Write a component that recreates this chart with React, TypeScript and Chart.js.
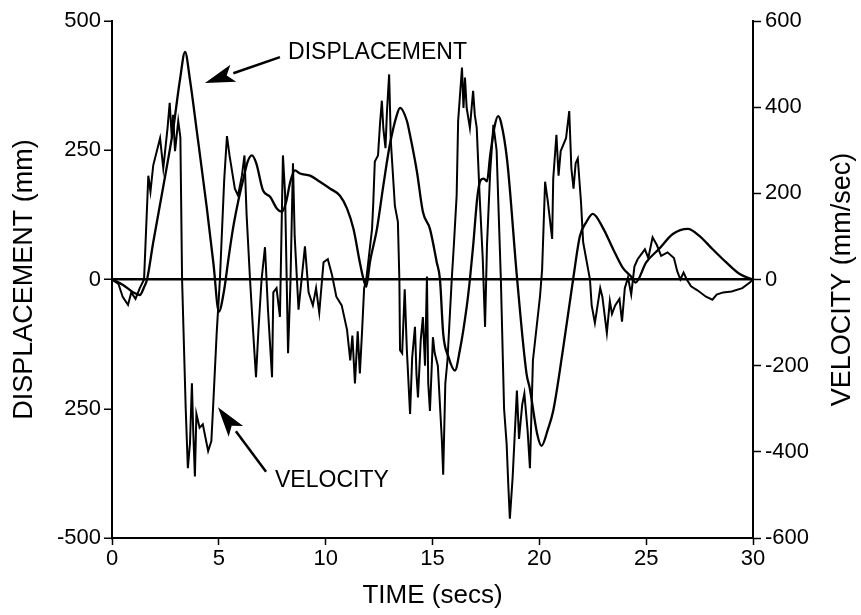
import React, { useEffect, useRef } from 'react';
import { Chart, registerables } from 'chart.js';

Chart.register(...registerables);

// ---- axis ticks ----
const timeTicks = [0, 5, 10, 15, 20, 25, 30];
const leftTickValues = [-500, -250, 0, 250, 500];
const leftTickLabels = ['-500', '250', '0', '250', '500'];
const rightTickValues = [-600, -400, -200, 0, 200, 400, 600];
const rightTickLabels = ['-600', '-400', '-200', '0', '200', '400', '600'];

// ---- displacement (mm), left axis ----
const dispTime = [
  0, 0.5, 1.0, 1.3, 1.5, 1.64, 1.93, 2.4, 2.86, 3.18, 3.42, 3.65, 3.96, 4.43, 4.75, 5.0,
  5.25, 5.45, 5.66, 5.9, 6.15, 6.35, 6.55, 6.75, 7.07, 7.4, 7.72, 7.96, 8.15, 8.35, 8.56,
  8.8, 9.27, 9.73, 10.2, 10.67, 11.0, 11.3, 11.6, 11.75, 11.9, 12.07, 12.4, 12.7, 13.0,
  13.33, 13.48, 13.8, 13.95, 14.27, 14.55, 14.88, 15.2, 15.35, 15.5, 15.75, 16.05, 16.28,
  16.6, 16.75, 16.9, 17.1, 17.25, 17.4, 17.55, 17.7, 17.9, 18.07, 18.2, 18.5, 18.95, 19.4,
  19.55, 19.9, 20.1, 20.4, 20.65, 21.1, 21.58, 21.9, 22.2, 22.5, 23.0, 23.45, 23.9, 24.33,
  24.5, 25.0, 25.6, 26.25, 26.95, 27.5, 28.1, 28.75, 29.4, 30,
];
const dispMm = [
  0, -10, -25, -30, -15, 0, 72, 180, 290, 386, 440, 386, 290, 141, 30, -62,
  -20, 40, 98, 150, 195, 228, 240, 225, 172, 160, 137, 131, 150, 190, 211,
  205, 201, 189, 176, 162, 137, 98, 33, 4, -14, 33, 98, 182, 260,
  318, 332, 307, 279, 209, 131, 98, 33, 0, -104, -150, -176, -137,
  -53, 0, 64, 160, 192, 195, 190, 240, 295, 316, 305, 228, 6, -182,
  -210, -299, -322, -290, -254, -137, 0, 84, 111, 127, 98, 59, 23, 4,
  -6, 33, 59, 88, 98, 84, 59, 33, 10, 0,
];

// ---- velocity (mm/sec), right axis ----
const velTime = [
  0, 0.3, 0.5, 0.75, 0.9, 1.1, 1.3, 1.5, 1.7, 1.8, 1.93, 2.25, 2.4, 2.6, 2.7, 2.8, 2.86,
  2.95, 3.1, 3.2, 3.28, 3.45, 3.55, 3.65, 3.74, 3.8, 3.88, 3.95, 4.1, 4.25, 4.5, 4.65,
  4.73, 4.9, 5.05, 5.25, 5.38, 5.5, 5.75, 5.9, 6.08, 6.2, 6.3, 6.46, 6.6, 6.74, 6.85,
  7.0, 7.16, 7.3, 7.49, 7.55, 7.7, 7.86, 8.0, 8.1, 8.24, 8.35, 8.47, 8.55, 8.73, 9.03,
  9.2, 9.4, 9.55, 9.7, 9.9, 10.1, 10.3, 10.5, 10.75, 11.0, 11.15, 11.25, 11.37, 11.5,
  11.6, 11.7, 11.8, 11.9, 12.17, 12.23, 12.3, 12.45, 12.54, 12.63, 12.7, 12.8, 12.87,
  12.97, 13.05, 13.24, 13.38, 13.45, 13.48, 13.58, 13.7, 13.8, 13.95, 14.05, 14.18,
  14.25, 14.32, 14.45, 14.55, 14.65, 14.74, 14.8, 14.88, 15.02, 15.1, 15.25, 15.44,
  15.5, 15.6, 15.7, 15.9, 16.0, 16.13, 16.2, 16.38, 16.45, 16.52, 16.6, 16.75, 16.9,
  16.98, 17.07, 17.2, 17.35, 17.46, 17.55, 17.7, 17.85, 18.0, 18.2, 18.35, 18.47, 18.55,
  18.62, 18.75, 18.95, 19.05, 19.2, 19.3, 19.45, 19.56, 19.7, 20.03, 20.13, 20.27, 20.4,
  20.6, 20.65, 20.8, 20.9, 21.0, 21.25, 21.4, 21.5, 21.6, 21.7, 21.8, 21.95, 22.05,
  22.37, 22.45, 22.6, 22.85, 22.95, 23.16, 23.3, 23.4, 23.55, 23.75, 23.87, 24.0, 24.15,
  24.3, 24.45, 24.6, 24.94, 25.1, 25.3, 25.5, 25.7, 26.0, 26.3, 26.45, 26.6, 26.75, 26.9,
  27.1, 27.4, 27.8, 28.1, 28.3, 28.6, 29.0, 29.5, 29.85, 30,
];
const velMmS = [
  0, -10, -40, -59, -30, -45, -20, 0, 241, 204, 265, 328, 258, 352, 410, 330, 382,
  298, 368, 330, 0, -300, -438, -380, -241, -350, -457, -312, -344, -336, -398, -375,
  -298, -124, 0, 230, 333, 288, 211, 195, 241, 288, 150, 0, -117, -227, -120,
  0, 75, -70, -227, -30, -20, -87, 288, 200, -171, -10, 270, 100, -70, 77,
  -30, -60, -20, -77, 40, 47, 10, -40, -60, -117, -188, -130, -241, -120,
  -218, -124, -20, 0, 117, 180, 274, 288, 359, 415, 350, 305, 391,
  476, 321, 171, 134, 0, -164, -171, -23, -164, -312, -180, -110,
  -220, -274, -140, -87, -200, 7, -241, -305, -134, -170, -200, -375,
  -453, -241, -188, 0, 80, 195, 368, 492, 398, 469, 398, 352, 438,
  382, 352, 200, 50, -110, 80, 250, 359, 300, 0, -300, -382, -480,
  -555, -460, -258, -370, -290, -265, -350, -438, -188, -40, 23, 227, 180,
  94, 234, 336, 241, 298, 328, 391, 258, 211, 270, 281, 180, 87,
  0, -60, -101, -20, -40, -124, -50, -80, -60, -45, -98, -20, 5,
  -35, 30, 47, 70, 50, 98, 80, 55, 63, 50, 20, 0, 16, 0,
  -16, -25, -40, -47, -35, -30, -28, -20, -7, 0,
];

// ---- annotations (in data units: time, displacement) ----
const annotationTexts = ['DISPLACEMENT', 'VELOCITY'];
const annotationTextAt = [[8.24, 439], [7.63, -390]];
const annotationArrowTail = [[7.86, 430], [7.21, -372]];
const annotationArrowHead = [[4.35, 380], [4.96, -247]];

const FONT = '"Liberation Sans", Arial, Helvetica, sans-serif';

const annotationPlugin = {
  id: 'figAnnotations',
  afterDraw(chart: any) {
    const { ctx, scales, chartArea } = chart;
    const x = scales.x;
    const y = scales.y;
    ctx.save();
    ctx.fillStyle = '#000';
    ctx.strokeStyle = '#000';
    ctx.font = `23px ${FONT}`;
    ctx.textBaseline = 'middle';
    ctx.textAlign = 'left';
    annotationTexts.forEach((txt, i) => {
      const tx = x.getPixelForValue(annotationTextAt[i][0]);
      const ty = y.getPixelForValue(annotationTextAt[i][1]);
      ctx.fillText(txt, tx, ty);
      const x0 = x.getPixelForValue(annotationArrowTail[i][0]);
      const y0 = y.getPixelForValue(annotationArrowTail[i][1]);
      const x1 = x.getPixelForValue(annotationArrowHead[i][0]);
      const y1 = y.getPixelForValue(annotationArrowHead[i][1]);
      const ang = Math.atan2(y1 - y0, x1 - x0);
      const headLen = 30;
      const headW = 9;
      const bx = x1 - headLen * Math.cos(ang);
      const by = y1 - headLen * Math.sin(ang);
      ctx.lineWidth = 2.5;
      ctx.beginPath();
      ctx.moveTo(x0, y0);
      ctx.lineTo(bx, by);
      ctx.stroke();
      ctx.beginPath();
      ctx.moveTo(x1, y1);
      ctx.lineTo(bx + headW * Math.sin(ang), by - headW * Math.cos(ang));
      ctx.lineTo(bx + 7 * Math.cos(ang), by + 7 * Math.sin(ang));
      ctx.lineTo(bx - headW * Math.sin(ang), by + headW * Math.cos(ang));
      ctx.closePath();
      ctx.fill();
    });
    // right axis title, reading bottom-to-top
    ctx.font = `27px ${FONT}`;
    ctx.textAlign = 'center';
    ctx.translate(chart.width - 18, (chartArea.top + chartArea.bottom) / 2);
    ctx.rotate(-Math.PI / 2);
    ctx.fillText('VELOCITY (mm/sec)', 0, 0);
    ctx.restore();
  },
};

export default function App() {
  const canvasRef = useRef<HTMLCanvasElement | null>(null);

  useEffect(() => {
    if (!canvasRef.current) return;
    const tickFont = { family: FONT, size: 22 };
    const titleFont = { family: FONT, size: 26 };
    const yTitleFont = { family: FONT, size: 27 };
    const chart = new Chart(canvasRef.current, {
      type: 'line',
      data: {
        datasets: [
          {
            label: 'Displacement',
            data: dispTime.map((t, i) => ({ x: t, y: dispMm[i] })),
            yAxisID: 'y',
            borderColor: '#000',
            borderWidth: 2.3,
            pointRadius: 0,
            cubicInterpolationMode: 'monotone',
            fill: false,
          },
          {
            label: 'Velocity',
            data: velTime.map((t, i) => ({ x: t, y: velMmS[i] })),
            yAxisID: 'y1',
            borderColor: '#000',
            borderWidth: 2,
            pointRadius: 0,
            tension: 0,
            fill: false,
          },
        ],
      },
      options: {
        responsive: false,
        animation: false,
        devicePixelRatio: 1,
        layout: { padding: { top: 21, left: 0, right: 0, bottom: 0 } },
        plugins: {
          legend: { display: false },
          tooltip: { enabled: false },
        },
        scales: {
          x: {
            type: 'linear',
            min: 0,
            max: 30,
            afterBuildTicks: (s: any) => {
              s.ticks = timeTicks.map((v) => ({ value: v }));
            },
            afterFit: (s: any) => {
              s.height = 77;
            },
            ticks: {
              font: tickFont,
              color: '#000',
              padding: 1,
              maxRotation: 0,
              autoSkip: false,
              callback: (v: any) => String(v),
            },
            grid: {
              display: true,
              drawOnChartArea: false,
              drawTicks: true,
              tickLength: 7,
              tickColor: '#000',
              tickWidth: 1.5,
            },
            border: { display: true, color: '#000', width: 2 },
            title: {
              display: true,
              text: 'TIME (secs)',
              font: titleFont,
              color: '#000',
              padding: { top: 0, bottom: 4 },
            },
          },
          y: {
            type: 'linear',
            position: 'left',
            min: -500,
            max: 500,
            afterBuildTicks: (s: any) => {
              s.ticks = leftTickValues.map((v) => ({ value: v }));
            },
            afterFit: (s: any) => {
              s.width = 112;
            },
            ticks: {
              font: tickFont,
              color: '#000',
              padding: 3,
              autoSkip: false,
              callback: (v: any) => leftTickLabels[leftTickValues.indexOf(v)],
            },
            grid: {
              display: true,
              drawOnChartArea: true,
              drawTicks: true,
              tickLength: 8,
              tickColor: '#000',
              tickWidth: 1.5,
              color: (c: any) => (c.tick && c.tick.value === 0 ? '#000' : 'rgba(0,0,0,0)'),
              lineWidth: 2.5,
            },
            border: { display: true, color: '#000', width: 2 },
            title: {
              display: true,
              text: 'DISPLACEMENT (mm)',
              font: yTitleFont,
              color: '#000',
              padding: { top: 8, bottom: 0 },
            },
          },
          y1: {
            type: 'linear',
            position: 'right',
            min: -600,
            max: 600,
            afterBuildTicks: (s: any) => {
              s.ticks = rightTickValues.map((v) => ({ value: v }));
            },
            afterFit: (s: any) => {
              s.width = 108;
            },
            ticks: {
              font: tickFont,
              color: '#000',
              padding: 4,
              autoSkip: false,
              callback: (v: any) => rightTickLabels[rightTickValues.indexOf(v)],
            },
            grid: {
              display: true,
              drawOnChartArea: false,
              drawTicks: true,
              tickLength: 8,
              tickColor: '#000',
              tickWidth: 1.5,
            },
            border: { display: true, color: '#000', width: 2 },
            title: { display: false },
          },
        },
      },
      plugins: [annotationPlugin],
    } as any);
    return () => chart.destroy();
  }, []);

  return (
    <div style={{ position: 'absolute', left: 0, top: 0, width: 861, height: 615, background: '#fff' }}>
      <canvas ref={canvasRef} width={861} height={615} style={{ display: 'block' }} />
    </div>
  );
}
